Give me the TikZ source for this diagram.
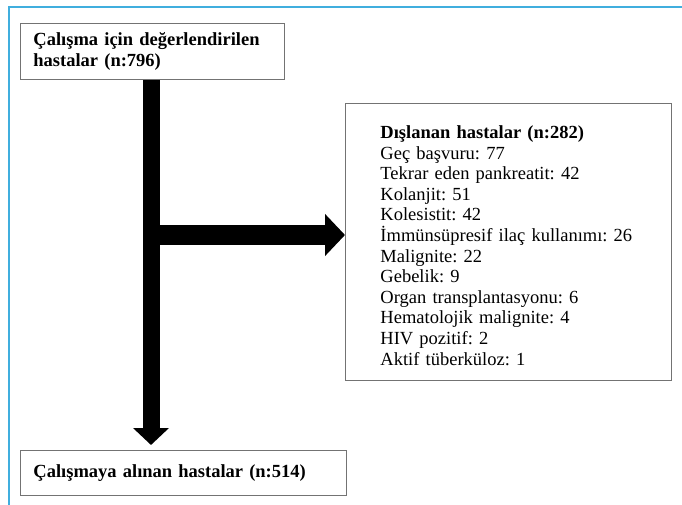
\documentclass[tikz,border=0pt]{standalone}
\usepackage{fontspec}
\setmainfont{Liberation Serif}
\usepackage{tikz}
\usetikzlibrary{positioning,arrows.meta}
\frenchspacing

\definecolor{framecyan}{RGB}{64,174,222}
\tikzset{
	box/.style={draw=black!55, line width=0.9pt, anchor=north west, align=left,
		font=\fontsize{18.5}{20.6}\selectfont, inner ysep=0pt},
	downarrow/.style={line width=17pt, -{Triangle[length=17pt,width=35pt]}},
	sidearrow/.style={line width=20pt, -{Triangle[length=20pt,width=41pt]}}
}

\begin{document}
\begin{tikzpicture}[x=1pt, y=-1pt]
		\useasboundingbox (0,0) rectangle (682,505);
		\draw[framecyan, line width=2pt] (9,505) -- (9,7) -- (682,7);

		\node(start)[box, text width=238pt, inner xsep=13pt, minimum height=56pt] at (20,23)
			{\textbf{Çalışma için değerlendirilen}\\\textbf{hastalar (n:796)}};
		\node(excl)[box, text width=256pt, inner xsep=35pt, minimum height=277pt] at (345,103)
			{\rule{0pt}{20pt}\textbf{Dışlanan hastalar (n:282)}\\
			Geç başvuru: 77\\
			Tekrar eden pankreatit: 42\\
			Kolanjit: 51\\
			Kolesistit: 42\\
			İmmünsüpresif ilaç kullanımı: 26\\
			Malignite: 22\\
			Gebelik: 9\\
			Organ transplantasyonu: 6\\
			Hematolojik malignite: 4\\
			HIV pozitif: 2\\
			Aktif tüberküloz: 1};
		\node(incl)[box, text width=300pt, inner xsep=13pt, minimum height=45pt] at (20,450)
			{\textbf{Çalışmaya alınan hastalar (n:514)}\\[1pt]};
		\coordinate(split) at (151,235);

		\draw[downarrow, shorten >=5pt] (start.south -| split) -- (split |- incl.north);
		\draw[sidearrow] (split) -- (split -| excl.west);
	\end{tikzpicture}
\end{document}
